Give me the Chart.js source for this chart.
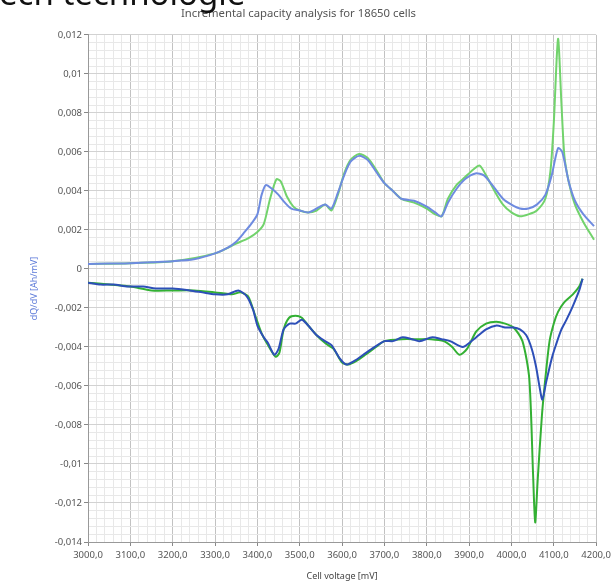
<!DOCTYPE html>
<html>
<head>
<meta charset="utf-8">
<style>
  body { margin: 0; background: #fff; }
  #wrap { position: relative; width: 615px; height: 583px; overflow: hidden; }
  #heading { position: absolute; left: -1px; top: -24px; font: 33px/1 "Noto Sans", sans-serif; color: #111; white-space: nowrap; }
</style>
</head>
<body>
<div id="wrap">
  <canvas id="icaChart" width="615" height="583"></canvas>
  <div id="heading">ech technologie</div>
</div>

<script src="https://cdn.jsdelivr.net/npm/chart.js"></script>
<script>
// tick values
const xTicks = [3000, 3100, 3200, 3300, 3400, 3500, 3600, 3700, 3800, 3900, 4000, 4100, 4200];
const yTicks = [0.012, 0.01, 0.008, 0.006, 0.004, 0.002, 0, -0.002, -0.004, -0.006, -0.008, -0.01, -0.012, -0.014];

// charge (upper) curves
const chargeBlueV = [3000, 3050, 3100, 3150, 3200, 3250, 3300, 3330, 3350, 3370, 3385, 3400, 3410, 3420, 3435, 3450, 3465, 3480, 3500, 3520, 3540, 3560, 3575, 3590, 3605, 3620, 3640, 3660, 3680, 3700, 3720, 3740, 3770, 3800, 3820, 3835, 3850, 3870, 3890, 3915, 3935, 3955, 3980, 4000, 4020, 4040, 4060, 4080, 4095, 4110, 4120, 4135, 4150, 4170, 4195];
const chargeBlue = [0.00026, 0.00028, 0.0003, 0.00035, 0.0004, 0.0005, 0.0008, 0.0011, 0.0014, 0.0019, 0.0023, 0.0028, 0.0038, 0.0043, 0.0041, 0.0038, 0.0034, 0.0031, 0.003, 0.0029, 0.0031, 0.0033, 0.0031, 0.0039, 0.0048, 0.0055, 0.0058, 0.0056, 0.005, 0.0044, 0.004, 0.0036, 0.0035, 0.0032, 0.0029, 0.0027, 0.0034, 0.0041, 0.0046, 0.0049, 0.0048, 0.0043, 0.0036, 0.0033, 0.0031, 0.0031, 0.0033, 0.0038, 0.0048, 0.0062, 0.006, 0.0045, 0.0035, 0.0028, 0.0022];

const chargeGreenV = [3000, 3100, 3200, 3300, 3350, 3380, 3400, 3415, 3430, 3445, 3455, 3470, 3485, 3500, 3520, 3540, 3560, 3575, 3590, 3605, 3620, 3640, 3660, 3680, 3700, 3720, 3740, 3770, 3800, 3820, 3835, 3850, 3870, 3890, 3910, 3925, 3940, 3960, 3980, 4000, 4020, 4040, 4060, 4080, 4092, 4100, 4110, 4118, 4125, 4135, 4150, 4170, 4195];
const chargeGreen = [0.00026, 0.0003, 0.0004, 0.0008, 0.0013, 0.0016, 0.0019, 0.0023, 0.0036, 0.0046, 0.0045, 0.0037, 0.0032, 0.003, 0.0029, 0.003, 0.0033, 0.003, 0.0038, 0.0049, 0.0056, 0.0059, 0.0057, 0.0051, 0.0044, 0.004, 0.0036, 0.0034, 0.0031, 0.0028, 0.0027, 0.0036, 0.0043, 0.0047, 0.0051, 0.0053, 0.0048, 0.004, 0.0033, 0.0029, 0.0027, 0.0028, 0.003, 0.0036, 0.005, 0.0075, 0.0118, 0.0085, 0.0058, 0.0045, 0.0033, 0.0024, 0.0015];

// discharge (lower) curves
const dischargeBlueV = [3000, 3030, 3060, 3094, 3130, 3160, 3200, 3240, 3270, 3300, 3330, 3355, 3375, 3390, 3400, 3415, 3425, 3440, 3450, 3462, 3476, 3490, 3505, 3520, 3540, 3560, 3575, 3595, 3610, 3630, 3650, 3670, 3700, 3720, 3743, 3765, 3783, 3813, 3835, 3855, 3885, 3900, 3917, 3940, 3965, 3985, 4005, 4020, 4035, 4048, 4058, 4066, 4073, 4082, 4095, 4105, 4118, 4130, 4145, 4160, 4168];
const dischargeBlue = [-0.0007, -0.0008, -0.0008, -0.0009, -0.0009, -0.001, -0.001, -0.0011, -0.0012, -0.0013, -0.0013, -0.0011, -0.0014, -0.0021, -0.0029, -0.0035, -0.0038, -0.0044, -0.0041, -0.0031, -0.0028, -0.0028, -0.0026, -0.0029, -0.0034, -0.0037, -0.0039, -0.0046, -0.0049, -0.0047, -0.0044, -0.0041, -0.0037, -0.0037, -0.0035, -0.0036, -0.0037, -0.0035, -0.0036, -0.0037, -0.004, -0.0038, -0.0035, -0.0031, -0.0029, -0.003, -0.003, -0.0031, -0.0034, -0.0041, -0.005, -0.006, -0.0067, -0.0058, -0.0046, -0.0039, -0.0031, -0.0026, -0.0019, -0.0011, -0.0005];

const dischargeGreenV = [3000, 3050, 3100, 3150, 3200, 3250, 3300, 3340, 3360, 3378, 3395, 3410, 3425, 3443, 3452, 3462, 3475, 3490, 3505, 3520, 3540, 3560, 3580, 3600, 3615, 3635, 3655, 3680, 3700, 3740, 3780, 3810, 3840, 3860, 3877, 3895, 3917, 3940, 3964, 3985, 4005, 4026, 4042, 4051, 4056, 4062, 4072, 4082, 4090, 4100, 4110, 4125, 4145, 4160, 4168];
const dischargeGreen = [-0.0007, -0.0008, -0.0009, -0.0011, -0.0011, -0.0011, -0.0012, -0.0013, -0.0012, -0.0014, -0.0024, -0.0033, -0.0039, -0.0045, -0.0043, -0.0031, -0.0025, -0.0024, -0.0025, -0.0029, -0.0034, -0.0038, -0.0041, -0.0048, -0.0049, -0.0047, -0.0044, -0.004, -0.0037, -0.0036, -0.0036, -0.0036, -0.0037, -0.004, -0.0044, -0.0041, -0.0032, -0.0028, -0.0027, -0.0028, -0.003, -0.0037, -0.0056, -0.0105, -0.013, -0.0108, -0.0075, -0.0052, -0.0037, -0.0028, -0.0022, -0.0017, -0.0013, -0.0009, -0.0005];

const toPoints = (xs, ys) => xs.map((x, i) => ({ x: x, y: ys[i] }));

// each major step split in 5 for the fine grid
function withMinor(majors) {
    const out = [];
    const sorted = majors.slice().sort((a, b) => a - b);
    for (let i = 0; i < sorted.length - 1; i++) {
        const step = (sorted[i + 1] - sorted[i]) / 5;
        for (let k = 0; k < 5; k++) out.push({ value: sorted[i] + k * step, major: k === 0 });
    }
    out.push({ value: sorted[sorted.length - 1], major: true });
    return out;
}
const xTickList = withMinor(xTicks);
const yTickList = withMinor(yTicks);

const isMajor = (list, v) => list.some(t => t.major && Math.abs(t.value - v) < 1e-9 * (Math.abs(v) + 1));
const fmtComma = v => String(Number(v.toFixed(4))).replace('.', ',');

const lineDs = (label, xs, ys, color) => ({
    label: label,
    data: toPoints(xs, ys),
    borderColor: color,
    borderWidth: 2,
    pointRadius: 0,
    tension: 0.25,
    fill: false
});

new Chart(document.getElementById('icaChart'), {
    type: 'line',
    data: {
        datasets: [
            lineDs('charge blue', chargeBlueV, chargeBlue, '#6e8be0'),
            lineDs('discharge blue', dischargeBlueV, dischargeBlue, '#2d4fb8'),
            lineDs('charge green', chargeGreenV, chargeGreen, '#72d36c'),
            lineDs('discharge green', dischargeGreenV, dischargeGreen, '#33b033')
        ]
    },
    options: {
        responsive: false,
        animation: false,
        layout: { padding: { left: 0, right: 18, top: 0, bottom: 0 } },
        plugins: {
            legend: { display: false },
            tooltip: { enabled: false },
            title: {
                display: true,
                text: 'Incremental capacity analysis for 18650 cells',
                color: '#555',
                font: { family: 'Noto Sans', size: 11.3, weight: 'normal', lineHeight: 1.2 },
                padding: { top: 7, bottom: 14.4 }
            }
        },
        scales: {
            x: {
                type: 'linear',
                min: 3000,
                max: 4200,
                afterBuildTicks: s => { s.ticks = xTickList.map(t => ({ value: t.value })); },
                afterFit: s => { s.height = 41; },
                ticks: {
                    autoSkip: false,
                    maxRotation: 0,
                    padding: 4,
                    color: '#555',
                    font: { family: 'Noto Sans', size: 9.5 },
                    callback: v => isMajor(xTickList, v) ? v.toFixed(1).replace('.', ',') : ''
                },
                grid: {
                    color: c => isMajor(xTickList, c.tick.value) ? '#c2c2c2' : '#e8e8e8',
                    tickColor: c => isMajor(xTickList, c.tick.value) ? '#888' : 'rgba(0,0,0,0)',
                    tickLength: 4
                },
                border: { display: true, color: '#999' },
                title: {
                    display: true,
                    text: 'Cell voltage [mV]',
                    color: '#444',
                    font: { family: 'Noto Sans', size: 9, lineHeight: 1.2 },
                    padding: { top: 0, bottom: 1 }
                }
            },
            y: {
                type: 'linear',
                min: -0.014,
                max: 0.012,
                afterBuildTicks: s => { s.ticks = yTickList.map(t => ({ value: t.value })); },
                afterFit: s => { s.width = 88; },
                ticks: {
                    autoSkip: false,
                    padding: 2,
                    color: '#555',
                    font: { family: 'Noto Sans', size: 9.5 },
                    callback: v => isMajor(yTickList, v) ? fmtComma(v) : ''
                },
                grid: {
                    color: c => isMajor(yTickList, c.tick.value) ? '#d2d2d2' : '#e8e8e8',
                    tickColor: c => isMajor(yTickList, c.tick.value) ? '#888' : 'rgba(0,0,0,0)',
                    tickLength: 4
                },
                border: { display: true, color: '#999' },
                title: {
                    display: true,
                    text: 'dQ/dV [Ah/mV]',
                    color: '#5a78d8',
                    font: { family: 'Noto Sans', size: 9, lineHeight: 1.2 },
                    padding: { top: 29, bottom: 0 }
                }
            }
        }
    }
});
</script>
</body>
</html>
